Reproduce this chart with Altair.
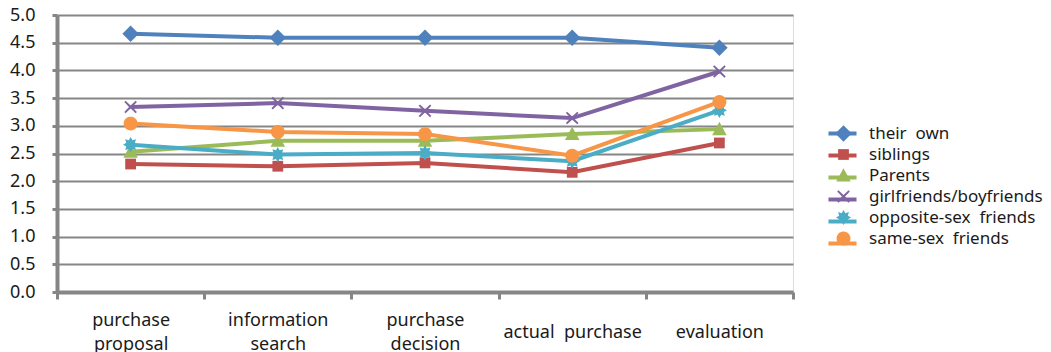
import math
import altair as alt
import pandas as pd

# ---- data ----
stages = ["purchase|proposal", "information|search", "purchase|decision",
          "actual\u00a0 purchase", "evaluation"]
series = ["their\u00a0 own", "siblings", "Parents", "girlfriends/boyfriends",
          "opposite-sex\u00a0 friends", "same-sex\u00a0 friends"]
their_own = [4.66, 4.59, 4.59, 4.59, 4.41]
siblings = [2.31, 2.27, 2.33, 2.16, 2.69]
parents = [2.53, 2.73, 2.73, 2.85, 2.94]
girlfriends = [3.34, 3.41, 3.27, 3.14, 3.98]
opposite_sex = [2.66, 2.48, 2.51, 2.36, 3.28]
same_sex = [3.04, 2.89, 2.85, 2.46, 3.43]
y_ticks = [0.0, 0.5, 1.0, 1.5, 2.0, 2.5, 3.0, 3.5, 4.0, 4.5, 5.0]

colors = ["#4F81BD", "#C0504D", "#9BBB59", "#8064A2", "#4BACC6", "#F79646"]

# marker shapes (custom SVG paths in the unit box)
diamond = "M0,-1.3L1.3,0L0,1.3L-1.3,0Z"
square = "M-0.85,-0.85L0.85,-0.85L0.85,0.85L-0.85,0.85Z"
triangle = "M0,-1.15L1.15,0.95L-1.15,0.95Z"
x_shape = ("M-0.8,-1L0,-0.25L0.8,-1L1,-0.8L0.25,0L1,0.8L0.8,1L0,0.25"
           "L-0.8,1L-1,0.8L-0.25,0L-1,-0.8Z")
star = ("M1.2,0L0.69,0.29L0.85,0.85L0.29,0.69L0,1.2L-0.29,0.69L-0.85,0.85"
        "L-0.69,0.29L-1.2,0L-0.69,-0.29L-0.85,-0.85L-0.29,-0.69L0,-1.2"
        "L0.29,-0.69L0.85,-0.85L0.69,-0.29Z")
circle = "M" + "L".join(
    f"{1.1*math.cos(2*math.pi*i/24):.3f},{1.1*math.sin(2*math.pi*i/24):.3f}"
    for i in range(24)) + "Z"
shapes = [diamond, square, triangle, x_shape, star, circle]
legend_line = "M-1.65,0L1.65,0"

all_vals = [their_own, siblings, parents, girlfriends, opposite_sex, same_sex]
rows = []
for s, vals in zip(series, all_vals):
    for st, v in zip(stages, vals):
        rows.append({"stage": st, "series": s, "line": "L: " + s, "value": v})
df = pd.DataFrame(rows)
line_names = ["L: " + s for s in series]

FONT = "Noto Sans"
GRAY = "#868686"
TEXT = "#1a1a1a"

# two-line labels: [line1, blank, line2]; single-line labels: [blank, text]  (half line height)
BLANK = "\u2800"
label_expr = ("length(split(datum.label, '|')) > 1 ? "
              f"[split(datum.label, '|')[0], '{BLANK}', split(datum.label, '|')[1]] : "
              f"['{BLANK}', datum.label]")

x_enc = alt.X(
    "stage:N", sort=stages,
    scale=alt.Scale(type="band", paddingInner=0, paddingOuter=0),
    axis=alt.Axis(title=None, labelAngle=0, labelExpr=label_expr,
                  labelFontSize=18, labelLineHeight=12, labelBaseline="middle",
                  labelPadding=21, labelColor=TEXT, tickBand="extent",
                  domainColor=GRAY, domainWidth=4, tickColor=GRAY, tickWidth=3,
                  tickSize=7, grid=False, labelOverlap=False),
)
y_enc = alt.Y(
    "value:Q", scale=alt.Scale(domain=[0, 5], nice=False),
    axis=alt.Axis(title=None, values=y_ticks, format=".1f", grid=True,
                  gridColor=GRAY, gridWidth=2, domainColor=GRAY, domainWidth=4,
                  tickColor=GRAY, tickWidth=3, tickSize=5, labelFontSize=18,
                  labelPadding=17, labelColor=TEXT),
)

lines = alt.Chart(df).mark_line(strokeWidth=4).encode(
    x=x_enc, y=y_enc,
    stroke=alt.Stroke("line:N", sort=line_names,
                      scale=alt.Scale(domain=line_names, range=colors),
                      legend=alt.Legend(title=None, orient="none", legendX=775,
                                        legendY=108, symbolType=legend_line,
                                        symbolSize=289, symbolStrokeWidth=4,
                                        labelFontSize=17, labelColor="transparent",
                                        rowPadding=3, padding=0, labelLimit=0)),
)

points = alt.Chart(df).mark_point(filled=True, opacity=1, strokeWidth=0,
                                  size=160).encode(
    x=x_enc, y=y_enc,
    fill=alt.Fill("series:N", sort=series,
                  scale=alt.Scale(domain=series, range=colors),
                  legend=alt.Legend(title=None, orient="none", legendX=778,
                                    legendY=110, symbolSize=160,
                                    labelFontSize=17, labelColor=TEXT,
                                    labelOffset=17, rowPadding=3, padding=0,
                                    symbolStrokeWidth=0, labelLimit=0)),
    shape=alt.Shape("series:N", sort=series,
                    scale=alt.Scale(domain=series, range=shapes)),
)

chart = alt.layer(lines, points).properties(
    width=736, height=277,
    autosize=alt.AutoSizeParams(type="none"),
    padding={"left": 57, "top": 15, "right": 258, "bottom": 60},
).configure_view(stroke=None).configure(font=FONT)

chart.save("out.html", embed_options={"renderer": "svg", "actions": False})
